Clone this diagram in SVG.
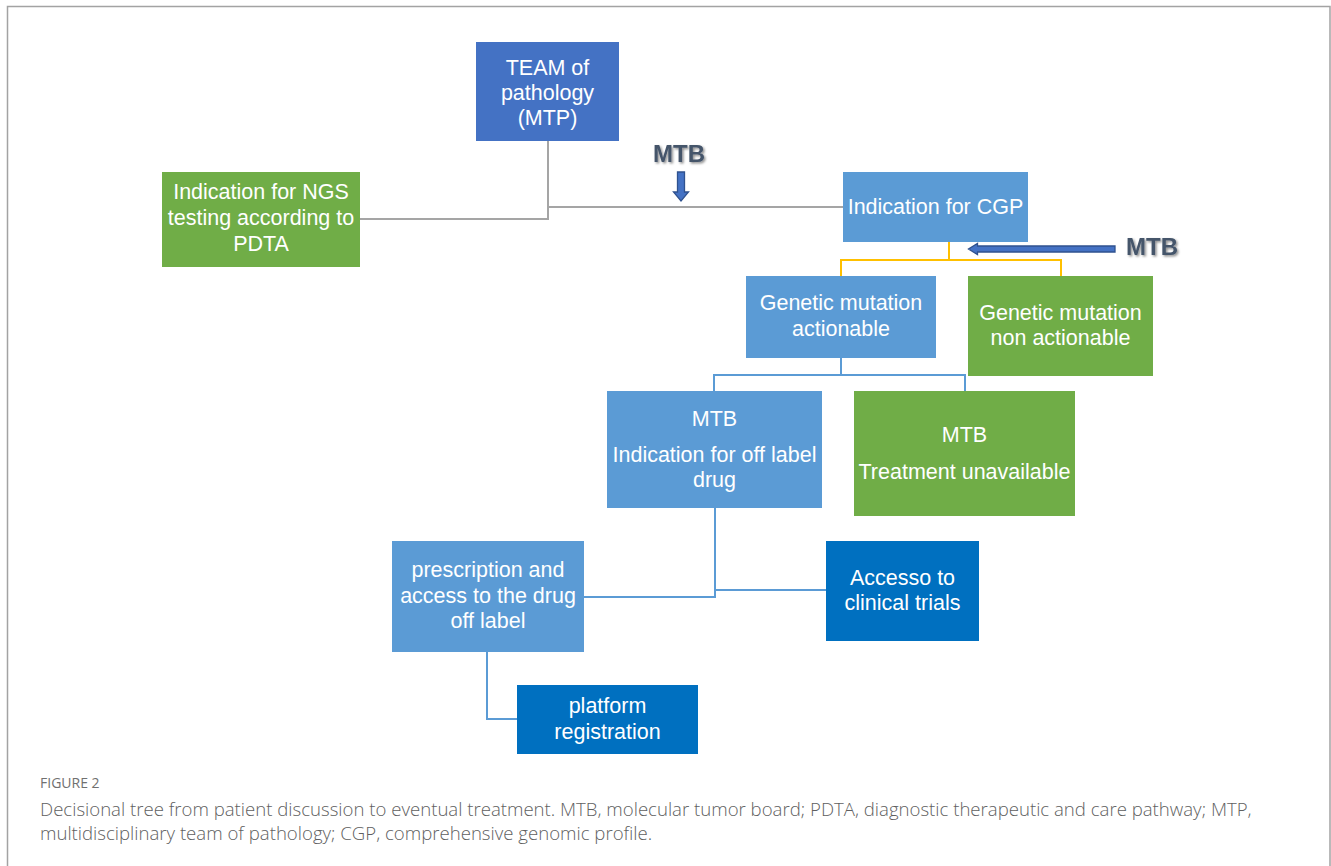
<svg xmlns="http://www.w3.org/2000/svg" width="1331" height="866" viewBox="0 0 1331 866">
<defs>
<style>
.box text{font-family:"Liberation Sans",Arial,sans-serif;font-size:21.5px;fill:#fff;text-anchor:middle}
.dark{fill:#4472C4}.blue{fill:#5B9BD5}.green{fill:#70AD47}.deep{fill:#0070C0}
.gray{stroke:#A5A5A5;stroke-width:2;fill:none}
.yel{stroke:#FFC000;stroke-width:2;fill:none}
.bl{stroke:#5B9BD5;stroke-width:2;fill:none}
.mtb{font-family:"Liberation Sans",Arial,sans-serif;font-size:24px;font-weight:bold;fill:#44546A;text-anchor:middle}
.arr{fill:#4472C4;stroke:#2F528F;stroke-width:1.3}
.cap{font-family:"Open Sans","Liberation Sans",Arial,sans-serif;font-weight:300;fill:#5f5f5f;font-size:18.6px}
.fig{font-family:"Open Sans","Liberation Sans",Arial,sans-serif;font-weight:400;fill:#707070;font-size:14px}
</style>
<filter id="sh" x="-20%" y="-20%" width="140%" height="160%">
<feDropShadow dx="1.5" dy="1.5" stdDeviation="1" flood-color="#000" flood-opacity="0.45"/>
</filter>
</defs>
<rect width="1331" height="866" fill="#fff"/>
<path d="M7.5,870 V6.5 H1330 V870" fill="none" stroke="#a3a3a3" stroke-width="1.5"/>

<g id="connectors">
<path class="gray" d="M548,141 V219 H360"/>
<path class="gray" d="M548,207 H843"/>
<path class="yel" d="M949,242 V260"/>
<path class="yel" d="M841,276 V260 H1061 V276"/>
<path class="bl" d="M841,358 V375"/>
<path class="bl" d="M714,391 V375 H965 V391"/>
<path class="bl" d="M715,508 V597 H584"/>
<path class="bl" d="M715,590 H826"/>
<path class="bl" d="M487,652 V719 H517"/>
</g>

<g id="mtb-top">
<text class="mtb" x="679" y="162" filter="url(#sh)">MTB</text>
<polygon class="arr" points="677.5,172 684.5,172 684.5,192 688.5,192 681,201 673.5,192 677.5,192"/>
</g>
<g id="mtb-right">
<text class="mtb" x="1152" y="255" filter="url(#sh)">MTB</text>
<polygon class="arr" points="1115,246 1115,252 977.5,252 977.5,254.5 968.5,249 977.5,243.5 977.5,246"/>
</g>

<g id="n-team" class="box">
<rect class="dark" x="476" y="42" width="143" height="99"/>
<text x="547.5" y="75">TEAM of</text>
<text x="547.5" y="100">pathology</text>
<text x="547.5" y="125">(MTP)</text>
</g>
<g id="n-ngs" class="box">
<rect class="green" x="162" y="172" width="198" height="95"/>
<text x="261" y="199">Indication for NGS</text>
<text x="261" y="225">testing according to</text>
<text x="261" y="251">PDTA</text>
</g>
<g id="n-cgp" class="box">
<rect class="blue" x="843" y="172" width="185" height="70"/>
<text x="935.5" y="214">Indication for CGP</text>
</g>
<g id="n-act" class="box">
<rect class="blue" x="746" y="276" width="190" height="82"/>
<text x="841" y="310">Genetic mutation</text>
<text x="841" y="336">actionable</text>
</g>
<g id="n-nonact" class="box">
<rect class="green" x="968" y="276" width="185" height="100"/>
<text x="1060.5" y="320">Genetic mutation</text>
<text x="1060.5" y="345">non actionable</text>
</g>
<g id="n-offlabel" class="box">
<rect class="blue" x="607" y="391" width="215" height="117"/>
<text x="714.5" y="426">MTB</text>
<text x="714.5" y="462">Indication for off label</text>
<text x="714.5" y="487">drug</text>
</g>
<g id="n-unavail" class="box">
<rect class="green" x="854" y="391" width="221" height="125"/>
<text x="964.5" y="442">MTB</text>
<text x="964.5" y="479">Treatment unavailable</text>
</g>
<g id="n-presc" class="box">
<rect class="blue" x="392" y="541" width="192" height="111"/>
<text x="488" y="577">prescription and</text>
<text x="488" y="603">access to the drug</text>
<text x="488" y="628">off label</text>
</g>
<g id="n-trials" class="box">
<rect class="deep" x="826" y="541" width="153" height="100"/>
<text x="902.5" y="585">Accesso to</text>
<text x="902.5" y="610">clinical trials</text>
</g>
<g id="n-platform" class="box">
<rect class="deep" x="517" y="685" width="181" height="69"/>
<text x="607.5" y="713">platform</text>
<text x="607.5" y="739">registration</text>
</g>

<g id="caption">
<text class="fig" x="40" y="788">FIGURE 2</text>
<text class="cap" x="40" y="816">Decisional tree from patient discussion to eventual treatment. MTB, molecular tumor board; PDTA, diagnostic therapeutic and care pathway; MTP,</text>
<text class="cap" x="40" y="840">multidisciplinary team of pathology; CGP, comprehensive genomic profile.</text>
</g>
</svg>
